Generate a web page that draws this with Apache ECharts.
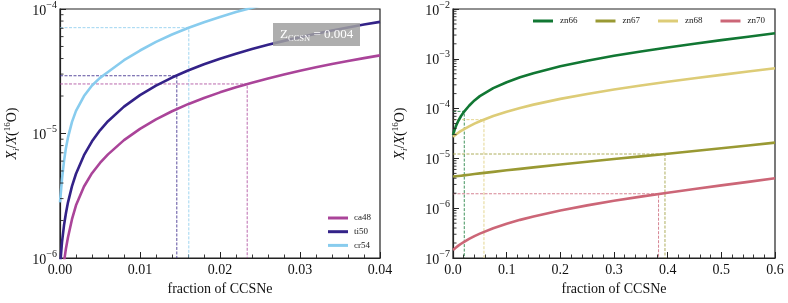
<!DOCTYPE html>
<html><head><meta charset="utf-8">
<script src="https://cdn.jsdelivr.net/npm/echarts@6/dist/echarts.min.js"></script>
<style>html,body{margin:0;padding:0;background:#fff}#c{width:788px;height:303px}</style>
</head><body><div id="c"></div>
<script>
// ---------- data (left panel) ----------
const leftF = [0, 0.00025, 0.0005, 0.00075, 0.001, 0.0015, 0.002, 0.003, 0.004, 0.005, 0.006, 0.008, 0.010, 0.012, 0.014, 0.016, 0.018, 0.020, 0.022, 0.024, 0.026, 0.028, 0.030, 0.032, 0.034, 0.036, 0.038, 0.040];
const ca48 = [4.0e-7, 6.6e-7, 9.3e-7, 1.2e-6, 1.47e-6, 2.05e-6, 2.65e-6, 3.75e-6, 4.8e-6, 5.8e-6, 6.8e-6, 8.85e-6, 1.09e-5, 1.3e-5, 1.51e-5, 1.72e-5, 1.93e-5, 2.14e-5, 2.35e-5, 2.56e-5, 2.77e-5, 2.98e-5, 3.19e-5, 3.4e-5, 3.61e-5, 3.82e-5, 4.03e-5, 4.24e-5];
const ti50 = [8.5e-7, 1.34e-6, 1.83e-6, 2.31e-6, 2.8e-6, 3.78e-6, 4.75e-6, 6.7e-6, 8.65e-6, 1.06e-5, 1.255e-5, 1.645e-5, 2.035e-5, 2.425e-5, 2.815e-5, 3.205e-5, 3.595e-5, 3.985e-5, 4.375e-5, 4.765e-5, 5.155e-5, 5.545e-5, 5.935e-5, 6.325e-5, 6.715e-5, 7.105e-5, 7.495e-5, 7.885e-5];
const cr54F = [0, 0.00025, 0.0005, 0.00075, 0.001, 0.0015, 0.002, 0.003, 0.004, 0.005, 0.006, 0.008, 0.010, 0.012, 0.014, 0.016, 0.018, 0.020, 0.022, 0.024, 0.026];
const cr54 = [2.8e-6, 4.3e-6, 6.0e-6, 7.7e-6, 9.3e-6, 1.24e-5, 1.52e-5, 2.0e-5, 2.43e-5, 2.8e-5, 3.12e-5, 3.88e-5, 4.64e-5, 5.44e-5, 6.24e-5, 7.04e-5, 7.84e-5, 8.64e-5, 9.44e-5, 1.024e-4, 1.104e-4];
// guide points (fraction, value) left panel
const guideLeft = { ca48: [0.0234, 2.5e-5], ti50: [0.0146, 2.91e-5], cr54: [0.0161, 7.08e-5] };

// ---------- data (right panel) ----------
const rightF = [0, 0.0025, 0.005, 0.0075, 0.01, 0.015, 0.02, 0.03, 0.04, 0.05, 0.075, 0.1, 0.125, 0.15, 0.2, 0.25, 0.3, 0.35, 0.4, 0.45, 0.5, 0.55, 0.6];
const zn66 = [2.9e-5, 3.62e-5, 4.3e-5, 5.0e-5, 5.7e-5, 7.1e-5, 8.5e-5, 1.14e-4, 1.46e-4, 1.78e-4, 2.57e-4, 3.39e-4, 4.25e-4, 5.14e-4, 7.06e-4, 9.16e-4, 1.147e-3, 1.404e-3, 1.689e-3, 2.009e-3, 2.37e-3, 2.78e-3, 3.25e-3];
const zn67 = [4.3e-6, 4.33e-6, 4.37e-6, 4.4e-6, 4.43e-6, 4.5e-6, 4.57e-6, 4.71e-6, 4.85e-6, 5.0e-6, 5.37e-6, 5.76e-6, 6.17e-6, 6.6e-6, 7.53e-6, 8.55e-6, 9.69e-6, 1.097e-5, 1.242e-5, 1.406e-5, 1.595e-5, 1.813e-5, 2.07e-5];
const zn68 = [2.73e-5, 2.87e-5, 3.0e-5, 3.14e-5, 3.28e-5, 3.56e-5, 3.84e-5, 4.41e-5, 4.99e-5, 5.58e-5, 7.09e-5, 8.66e-5, 1.032e-4, 1.202e-4, 1.569e-4, 1.971e-4, 2.415e-4, 2.905e-4, 3.452e-4, 4.064e-4, 4.755e-4, 5.54e-4, 6.44e-4];
const zn70 = [1.45e-7, 1.53e-7, 1.61e-7, 1.69e-7, 1.77e-7, 1.93e-7, 2.09e-7, 2.42e-7, 2.75e-7, 3.09e-7, 3.96e-7, 4.87e-7, 5.83e-7, 6.84e-7, 9.0e-7, 1.14e-6, 1.407e-6, 1.706e-6, 2.044e-6, 2.428e-6, 2.87e-6, 3.381e-6, 3.98e-6];
const guideRight = { zn66: [0.021, 8.8e-5], zn67: [0.395, 1.225e-5], zn68: [0.0577, 6.0e-5], zn70: [0.383, 1.95e-6] };

const colors = { ca48: '#AA4499', ti50: '#332288', cr54: '#88CCEE', zn66: '#117733', zn67: '#999933', zn68: '#DDCC77', zn70: '#CC6677' };

const FONT = '"Liberation Serif", "Times New Roman", "DejaVu Serif", serif';
const yMinL = 1e-6, yMaxL = 1e-4, yMinR = 1e-7, yMaxR = 1e-2;

function minorVals(lo, hi) {
  const out = [];
  for (let e = Math.round(Math.log10(lo)); e < Math.round(Math.log10(hi)); e++)
    for (let m = 2; m <= 9; m++) out.push(m * Math.pow(10, e));
  return out;
}
const zip = (xs, ys) => xs.map((x, i) => [x, ys[i]]);

function curve(name, xs, ys, xi) {
  return { name, type: 'line', xAxisIndex: xi, yAxisIndex: xi, data: zip(xs, ys), showSymbol: false, symbol: 'none',
    smooth: false, clip: true, z: 3,
    lineStyle: { color: colors[name], width: 2.6, join: 'round', cap: 'butt' }, itemStyle: { color: colors[name] } };
}
function guide(name, g, xi, ymin) {
  return { name: name + '_guide', type: 'line', xAxisIndex: xi, yAxisIndex: xi,
    data: [[0, g[1]], [g[0], g[1]], [g[0], ymin]], showSymbol: false, symbol: 'none', silent: true, z: 2,
    lineStyle: { color: colors[name], width: 0.8, type: [3, 1.5] } };
}
function minorTickSeries(xi, vals) {
  return { type: 'custom', xAxisIndex: xi, yAxisIndex: xi, silent: true, clip: false, z: 5,
    data: vals.map(v => [0, v]),
    renderItem: (params, api) => {
      const p = api.coord([api.value(0), api.value(1)]);
      return { type: 'line', shape: { x1: p[0], y1: p[1], x2: p[0] + 3.5, y2: p[1] }, style: { stroke: '#222', lineWidth: 0.9 } };
    } };
}
function yLabel(v) {
  const e = Math.round(Math.log10(v));
  return '{b|10}{s|\u2212' + Math.abs(e) + '}';
}
const yRich = { b: { fontFamily: FONT, fontSize: 14, color: '#111', lineHeight: 18, verticalAlign: 'bottom' },
                s: { fontFamily: FONT, fontSize: 10, color: '#111', lineHeight: 18, verticalAlign: 'top' } };
const nameRich = {
  i: { fontFamily: FONT, fontSize: 14, fontStyle: 'italic', color: '#111', lineHeight: 18, verticalAlign: 'middle' },
  sub: { fontFamily: FONT, fontSize: 9, fontStyle: 'italic', color: '#111', lineHeight: 18, verticalAlign: 'bottom' },
  n: { fontFamily: FONT, fontSize: 14, color: '#111', lineHeight: 18, verticalAlign: 'middle' },
  sup: { fontFamily: FONT, fontSize: 9, color: '#111', lineHeight: 18, verticalAlign: 'top' }
};
const yName = '{i|X}{sub|i}{n|/}{i|X}{n|(}{sup|16}{n|O)}';

function xAxis(gi, max, interval, dec) {
  return { type: 'value', gridIndex: gi, min: 0, max, interval,
    name: 'fraction of CCSNe', nameLocation: 'middle', nameGap: 24,
    nameTextStyle: { fontFamily: FONT, fontSize: 14, color: '#111' },
    axisLine: { lineStyle: { color: '#222', width: 1.2 } },
    axisTick: { inside: true, length: 6, lineStyle: { color: '#222', width: 1 } },
    minorTick: { show: true, splitNumber: 5, length: 3.5, lineStyle: { color: '#222', width: 0.9 } },
    axisLabel: { fontFamily: FONT, fontSize: 14, color: '#111', margin: 5, formatter: v => v.toFixed(dec) },
    splitLine: { show: false } };
}
function yAxis(gi, min, max, gap) {
  return { type: 'log', logBase: 10, gridIndex: gi, min, max,
    name: yName, nameLocation: 'middle', nameGap: gap, nameRotate: 90,
    nameTextStyle: { fontFamily: FONT, rich: nameRich },
    axisLine: { lineStyle: { color: '#222', width: 1.2 } },
    axisTick: { inside: true, length: 6, lineStyle: { color: '#222', width: 1 } },
    axisLabel: { margin: 3, fontFamily: FONT, formatter: yLabel, rich: yRich },
    splitLine: { show: false } };
}

const option = {
  animation: false,
  backgroundColor: '#fff',
  textStyle: { fontFamily: FONT },
  grid: [
    { left: 60, top: 9, width: 320, height: 249, show: true, borderColor: '#222', borderWidth: 1.2, backgroundColor: 'transparent' },
    { left: 453, top: 9, width: 322, height: 249, show: true, borderColor: '#222', borderWidth: 1.2, backgroundColor: 'transparent' }
  ],
  xAxis: [xAxis(0, 0.04, 0.01, 2), xAxis(1, 0.6, 0.1, 1)],
  yAxis: [yAxis(0, yMinL, yMaxL, 39), yAxis(1, yMinR, yMaxR, 44)],
  legend: [
    { data: ['ca48', 'ti50', 'cr54'], orient: 'vertical', left: 328, top: 212, padding: 0, itemGap: 1.7,
      icon: 'rect', itemWidth: 20, itemHeight: 3,
      textStyle: { fontFamily: FONT, fontSize: 9, color: '#222', lineHeight: 12, padding: [0, 0, 0, 1] } },
    { data: ['zn66', 'zn67', 'zn68', 'zn70'], orient: 'horizontal', left: 533, top: 15, padding: 0, itemGap: 18,
      icon: 'rect', itemWidth: 20, itemHeight: 3,
      textStyle: { fontFamily: FONT, fontSize: 9, color: '#222', lineHeight: 12, padding: [0, 0, 0, 2] } }
  ],
  graphic: [
    { type: 'rect', shape: { x: 273, y: 23, width: 87, height: 23 }, style: { fill: 'rgba(160,160,160,0.85)' }, z: 100 },
    { type: 'text', x: 280, y: 35, z: 101,
      style: { text: '{z|Z}{s|CCSN}{t| = 0.004}', verticalAlign: 'middle',
        rich: { z: { fontFamily: FONT, fontSize: 13, fill: '#fff', verticalAlign: 'middle', lineHeight: 16 },
                s: { fontFamily: FONT, fontSize: 8.5, fill: '#fff', verticalAlign: 'bottom', lineHeight: 16 },
                t: { fontFamily: FONT, fontSize: 13, fill: '#fff', verticalAlign: 'middle', lineHeight: 16 } } } }
  ],
  series: [
    guide('ca48', guideLeft.ca48, 0, yMinL),
    guide('ti50', guideLeft.ti50, 0, yMinL),
    guide('cr54', guideLeft.cr54, 0, yMinL),
    curve('ca48', leftF, ca48, 0),
    curve('ti50', leftF, ti50, 0),
    curve('cr54', cr54F, cr54, 0),
    guide('zn66', guideRight.zn66, 1, yMinR),
    guide('zn67', guideRight.zn67, 1, yMinR),
    guide('zn68', guideRight.zn68, 1, yMinR),
    guide('zn70', guideRight.zn70, 1, yMinR),
    curve('zn66', rightF, zn66, 1),
    curve('zn67', rightF, zn67, 1),
    curve('zn68', rightF, zn68, 1),
    curve('zn70', rightF, zn70, 1),
    minorTickSeries(0, minorVals(yMinL, yMaxL)),
    minorTickSeries(1, minorVals(yMinR, yMaxR))
  ]
};
const chart = echarts.init(document.getElementById('c'), null, { renderer: 'canvas' });
chart.setOption(option);
</script></body></html>
